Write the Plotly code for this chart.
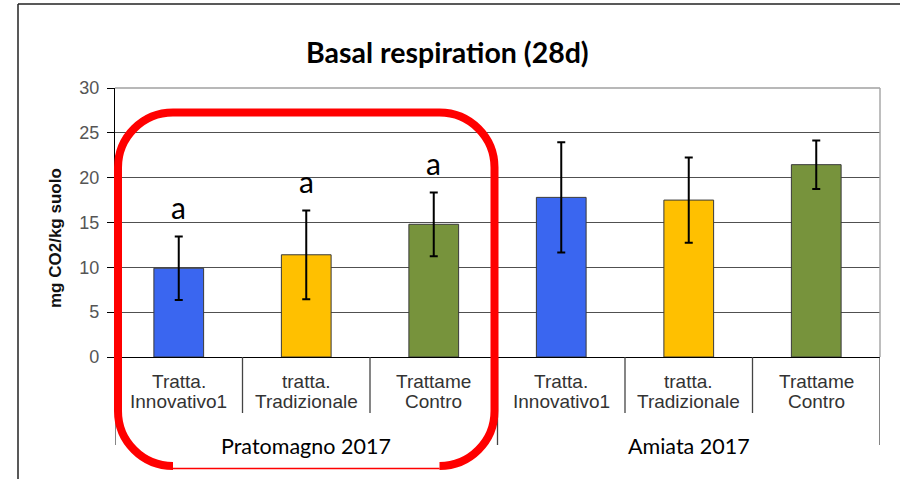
import plotly.graph_objects as go

# ---- data ----
groups = ["Pratomagno 2017", "Amiata 2017"]
treat_line1 = ["Tratta.", "tratta.", "Trattame"]
treat_line2 = ["Innovativo1", "Tradizionale", "Contro"]
pratomagno_values = [9.9, 11.4, 14.8]
pratomagno_errors = [3.55, 4.95, 3.55]
amiata_values = [17.8, 17.5, 21.45]
amiata_errors = [6.15, 4.75, 2.7]
pratomagno_letters = ["a", "a", "a"]
y_ticks = [0, 5, 10, 15, 20, 25, 30]

bar_colors = ["#3A66F0", "#FFC000", "#77933C"]

W, H = 900, 479
L, R, T, B = 115, 20, 88, 122
PW, PH = W - L - R, H - T - B


def px(x):
    return (x - L) / PW


def py(y):
    return (H - B - y) / PH


values = pratomagno_values + amiata_values
errors = pratomagno_errors + amiata_errors
xs = list(range(len(values)))
colors = bar_colors * len(groups)

fig = go.Figure()
fig.add_trace(go.Bar(
    x=xs, y=values, width=0.39,
    marker=dict(color=colors, line=dict(color="#3a3a3a", width=1)),
    error_y=dict(type="data", array=errors, visible=True,
                 color="black", thickness=2, width=4),
    hoverinfo="skip", showlegend=False,
))

annotations = []
shapes = []

# letters above Pratomagno bars
for i, (v, e, t) in enumerate(zip(pratomagno_values, pratomagno_errors, pratomagno_letters)):
    annotations.append(dict(x=i, y=v + e + 3.25, xref="x", yref="y", text=t,
                            showarrow=False, yanchor="middle",
                            font=dict(family="Lato", size=30, color="#000")))

# category labels
for g in range(len(groups)):
    for j in range(len(treat_line1)):
        xi = g * len(treat_line1) + j
        annotations.append(dict(x=xi, y=py(381.5), xref="x", yref="paper",
                                text=treat_line1[j], showarrow=False, yanchor="middle",
                                font=dict(family="Liberation Sans", size=19, color="#333")))
        annotations.append(dict(x=xi, y=py(401.5), xref="x", yref="paper",
                                text=treat_line2[j], showarrow=False, yanchor="middle",
                                font=dict(family="Liberation Sans", size=19, color="#333")))
    annotations.append(dict(x=g * 3 + 1, y=py(446), xref="x", yref="paper",
                            text=groups[g], showarrow=False, yanchor="middle",
                            font=dict(family="Lato", size=21.5, color="#000")))

# y axis title
annotations.append(dict(x=px(55), y=py(238), xref="paper", yref="paper",
                        text="<b>mg CO2/kg suolo</b>", textangle=-90, showarrow=False,
                        xanchor="center", yanchor="middle",
                        font=dict(family="Liberation Sans", size=17, color="#111")))

# chart title
annotations.append(dict(x=px(447.5), y=py(52), xref="paper", yref="paper",
                        text="<b>Basal respiration (28d)</b>", showarrow=False,
                        xanchor="center", yanchor="middle",
                        font=dict(family="Lato", size=28.5, color="#000")))

# dividers below axis
n = len(values)
for k in range(n + 1):
    xv = k - 0.5
    long = (k % 3 == 0)
    shapes.append(dict(type="line", xref="x", yref="paper", x0=xv, x1=xv,
                       y0=0, y1=py(445 if long else 413),
                       line=dict(color="#444", width=1.3)))

# top border (light) and right border
shapes.append(dict(type="line", xref="paper", yref="paper", x0=0, x1=1, y0=1, y1=1,
                   line=dict(color="#a0a0a0", width=1.5)))
shapes.append(dict(type="line", xref="paper", yref="paper", x0=1, x1=1, y0=0, y1=1,
                   line=dict(color="#a8a8a8", width=1.5)))

# outer frame
shapes.append(dict(type="line", xref="paper", yref="paper", x0=px(18), x1=px(18),
                   y0=py(4), y1=py(490), line=dict(color="#222", width=1.5)))
shapes.append(dict(type="line", xref="paper", yref="paper", x0=px(18), x1=px(905),
                   y0=py(4), y1=py(4), line=dict(color="#222", width=1.5)))

# red rounded highlight
lx, rx, ty, by, r = 118, 494.5, 112.5, 466, 55
k = 0.5523 * r


def P(x, y):
    return f"{px(x):.5f},{py(y):.5f}"


path = (f"M {P(lx + r, by)} "
        f"C {P(lx + r - k, by)} {P(lx, by - r + k)} {P(lx, by - r)} "
        f"L {P(lx, ty + r)} "
        f"C {P(lx, ty + r - k)} {P(lx + r - k, ty)} {P(lx + r, ty)} "
        f"L {P(rx - r, ty)} "
        f"C {P(rx - r + k, ty)} {P(rx, ty + r - k)} {P(rx, ty + r)} "
        f"L {P(rx, by - r)} "
        f"C {P(rx, by - r + k)} {P(rx - r + k, by)} {P(rx - r, by)}")
shapes.append(dict(type="path", xref="paper", yref="paper", path=path,
                   line=dict(color="#FF0000", width=8), layer="above"))
shapes.append(dict(type="line", xref="paper", yref="paper", x0=px(lx + r), x1=px(rx - r),
                   y0=py(468.5), y1=py(468.5), line=dict(color="#FF0000", width=1.5)))

fig.update_layout(
    width=W, height=H,
    margin=dict(l=L, r=R, t=T, b=B, pad=0),
    paper_bgcolor="white", plot_bgcolor="white",
    showlegend=False,
    bargap=0.61,
    xaxis=dict(range=[-0.5, n - 0.5], showticklabels=False, showgrid=False,
               zeroline=False, showline=False, ticks="", fixedrange=True),
    yaxis=dict(range=[0, 30], tickvals=y_ticks, showgrid=True, gridcolor="#505050",
               gridwidth=1, zeroline=True, zerolinecolor="black", zerolinewidth=1.3,
               showline=True, linecolor="black", linewidth=1.3,
               ticks="outside", ticklen=7, tickcolor="black", tickwidth=1.3,
               ticklabelstandoff=4,
               tickfont=dict(family="Liberation Sans", size=18, color="#555"),
               fixedrange=True),
    annotations=annotations,
    shapes=shapes,
)

fig.write_html(
    "out.html",
    config={"displayModeBar": False},
    post_script="document.body.style.margin='0';document.body.style.overflow='hidden';",
)
